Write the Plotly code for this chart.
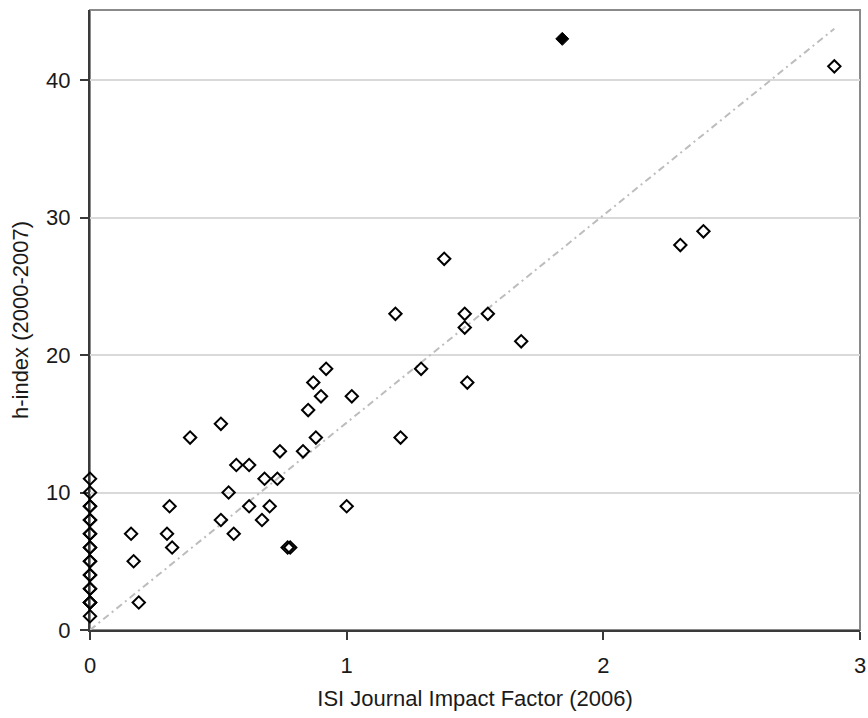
import numpy as np
import plotly.graph_objects as go

# Journals with impact factor 0 (stacked on the y axis)
zero_if_x = [0, 0, 0, 0, 0, 0, 0, 0, 0, 0, 0, 0, 0, 0, 0, 0, 0, 0, 0, 0]
zero_if_h = [11, 10, 9, 9, 8, 8, 7, 7, 6, 6, 5, 5, 4, 4, 3, 3, 2, 2, 2, 1]

# Journals with a non-zero impact factor
impact_factor = [0.16, 0.17, 0.19, 0.30, 0.31, 0.32, 0.39, 0.51, 0.51, 0.54,
                 0.56, 0.57, 0.62, 0.62, 0.67, 0.68, 0.70, 0.73, 0.74, 0.77,
                 0.78, 0.83, 0.85, 0.88, 0.87, 0.90, 0.92, 1.00, 1.02, 1.19,
                 1.21, 1.29, 1.38, 1.46, 1.46, 1.47, 1.55, 1.68, 2.30, 2.39,
                 2.90]
h_index = [7, 5, 2, 7, 9, 6, 14, 15, 8, 10,
           7, 12, 12, 9, 8, 11, 9, 11, 13, 6,
           6, 13, 16, 14, 18, 17, 19, 9, 17, 23,
           14, 19, 27, 23, 22, 18, 23, 21, 28, 29,
           41]

# Highlighted journal (filled marker)
highlight_x = [1.84]
highlight_h = [43]

# Linear trend through the origin, fitted on all journals
ax = np.array(zero_if_x + impact_factor + highlight_x, dtype=float)
ay = np.array(zero_if_h + h_index + highlight_h, dtype=float)
slope = float(np.sum(ax * ay) / np.sum(ax * ax))
trend_x = np.array([ax.min(), ax.max()])
trend_y = slope * trend_x

FONT = "Liberation Sans, Arial, sans-serif"
TXT = "#1a1a1a"

fig = go.Figure()
fig.add_trace(go.Scatter(
    x=trend_x, y=trend_y, mode="lines",
    line=dict(color="#bdbdbd", width=2, dash="7px,4px,2px,4px"),
    hoverinfo="skip", showlegend=False))
fig.add_trace(go.Scatter(
    x=zero_if_x + impact_factor, y=zero_if_h + h_index, mode="markers",
    marker=dict(symbol="diamond-open", size=9.5, color="black",
                line=dict(color="black", width=2)),
    cliponaxis=False, showlegend=False))
fig.add_trace(go.Scatter(
    x=highlight_x, y=highlight_h, mode="markers",
    marker=dict(symbol="diamond", size=10, color="black",
                line=dict(color="black", width=1)),
    cliponaxis=False, showlegend=False))

fig.update_layout(
    width=868, height=718,
    margin=dict(l=90, r=8, t=10, b=88),
    paper_bgcolor="white", plot_bgcolor="white",
    font=dict(family=FONT, size=22, color=TXT),
    shapes=[dict(type="rect", xref="paper", yref="paper", x0=0, y0=0, x1=1, y1=1,
                 line=dict(color="#8a8a8a", width=2), layer="below")],
)
fig.update_xaxes(
    range=[0, 3], tickvals=[0, 1, 2, 3], ticktext=["0", "1", "2", "3"],
    showgrid=False, zeroline=False, layer="below traces", automargin=False,
    showline=True, linecolor="#3a3a3a", linewidth=2,
    ticks="outside", ticklen=8, tickwidth=1.5, tickcolor="#3a3a3a",
    ticklabelstandoff=7, ticklabeloverflow="allow",
    tickfont=dict(size=22, color=TXT),
    title=dict(text="ISI Journal Impact Factor (2006)", font=dict(size=22, color=TXT), standoff=13),
)
fig.update_yaxes(
    range=[0, 45.1], tickvals=[0, 10, 20, 30, 40],
    showgrid=True, gridcolor="#d9d9d9", gridwidth=1.5, zeroline=False, layer="below traces",
    automargin=False,
    showline=True, linecolor="#3a3a3a", linewidth=2,
    ticks="outside", ticklen=8, tickwidth=1.5, tickcolor="#3a3a3a",
    ticklabelstandoff=5, ticklabeloverflow="allow",
    tickfont=dict(size=22, color=TXT),
    title=dict(text="h-index (2000-2007)", font=dict(size=22, color=TXT), standoff=11),
)

fig.write_html(
    "out.html",
    config={"displayModeBar": False},
    post_script="document.body.style.margin='0';document.body.style.overflow='hidden';",
)
